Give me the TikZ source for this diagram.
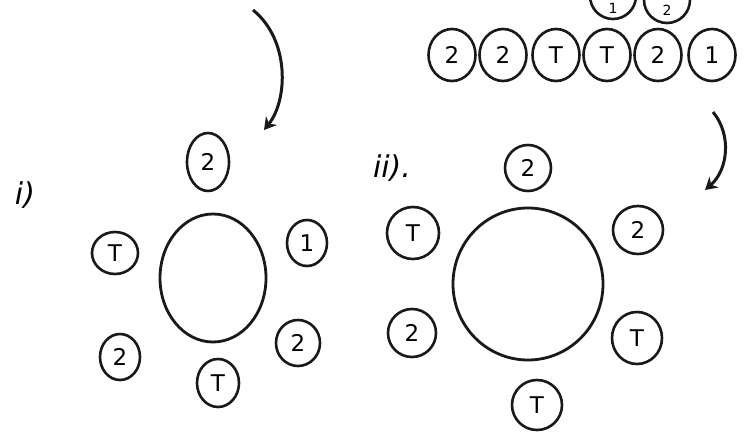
\documentclass[tikz,border=0pt]{standalone}
\usepackage{fontspec}
\setmainfont{DejaVu Sans}
\usetikzlibrary{shapes.geometric,arrows.meta}
\begin{document}
\begin{tikzpicture}[x=1pt,y=-1pt,
  ink/.style={draw=black!90,line width=2.6pt},
  seat/.style n args={2}{ellipse,ink,inner sep=0pt,minimum width=#1pt,minimum height=#2pt,font=\fontsize{23}{23}\selectfont},
  tablebox/.style n args={2}{ellipse,draw=black!90,line width=2.8pt,minimum width=#1pt,minimum height=#2pt},
  lbl/.style={font=\fontsize{30}{30}\selectfont\itshape},
  small/.style={font=\fontsize{14}{14}\selectfont,inner sep=0pt},
  curvearrow/.style={ink,line width=3pt,-{Stealth[length=12pt,width=14pt]}}]
\useasboundingbox (0,0) rectangle (744,439);
% top row of seats
\node[seat={46}{46}] (p1) at (613,-4) {};
\node[small] (p1t) at (613,8) {1};
\node[seat={46}{46}] (p2) at (667,0) {};
\node[small] (p2t) at (667,10) {2};
\node[seat={47}{52}] (r1) at (452,55) {2};
\node[seat={47}{52}] (r2) at (503,55) {2};
\node[seat={47}{52}] (r3) at (556,55) {T};
\node[seat={47}{52}] (r4) at (607,55) {T};
\node[seat={47}{52}] (r5) at (658,55) {2};
\node[seat={47}{52}] (r6) at (712,55) {1};
% arrows
\coordinate (a1s) at (253,10);
\coordinate (a1e) at (264,130);
\draw[curvearrow] (a1s) .. controls (290,40) and (288,100) .. (a1e);
\coordinate (a2s) at (713,112);
\coordinate (a2e) at (705,190);
\draw[curvearrow] (a2s) .. controls (732,135) and (728,170) .. (a2e);
% labels
\node[lbl] (li) at (25,195) {i)};
\node[lbl] (lii) at (392,168) {ii).};
% table i
\node[tablebox={106}{128}] (t1) at (213,278) {};
\node[seat={42}{58}] (a1) at (208,162) {2};
\node[seat={46}{42}] (a2) at (115,253) {T};
\node[seat={40}{46}] (a3) at (307,243) {1};
\node[seat={40}{46}] (a4) at (120,357) {2};
\node[seat={42}{48}] (a5) at (218,383) {T};
\node[seat={44}{46}] (a6) at (298,343) {2};
% table ii
\node[tablebox={150}{152}] (t2) at (528,284) {};
\node[seat={46}{46}] (b1) at (528,168) {2};
\node[seat={52}{52}] (b2) at (413,233) {T};
\node[seat={50}{48}] (b3) at (638,230) {2};
\node[seat={48}{48}] (b4) at (412,333) {2};
\node[seat={50}{52}] (b5) at (637,338) {T};
\node[seat={50}{50}] (b6) at (537,405) {T};
\end{tikzpicture}
\end{document}
